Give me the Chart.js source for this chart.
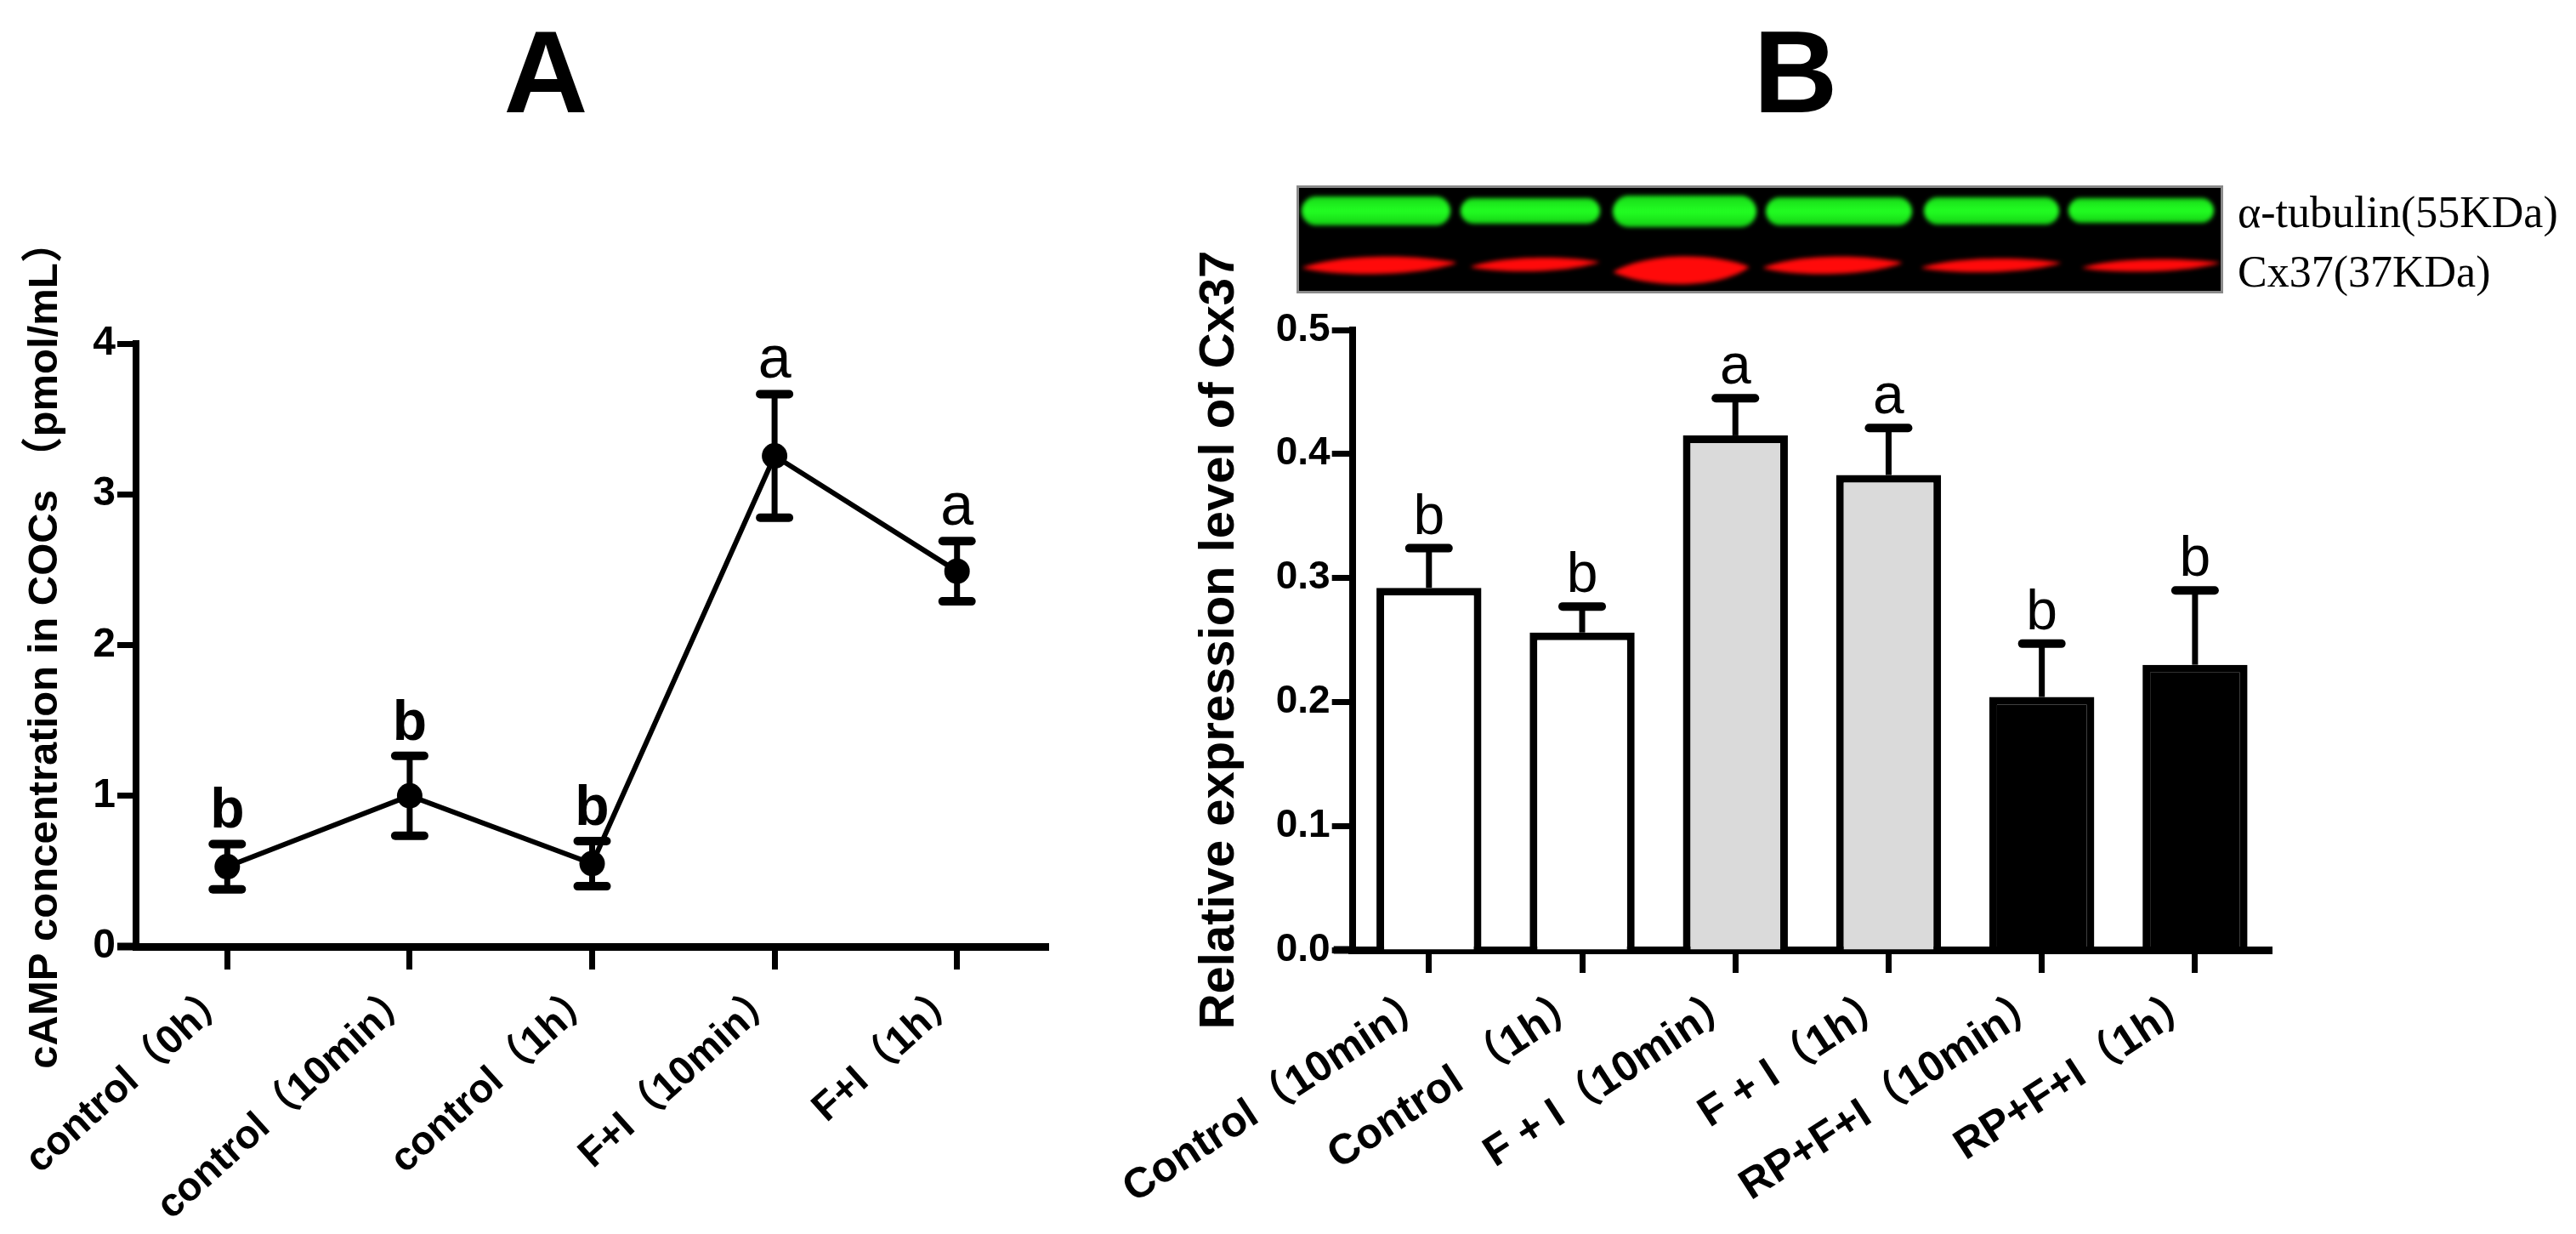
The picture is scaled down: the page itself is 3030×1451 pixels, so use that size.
<!DOCTYPE html>
<html>
<head>
<meta charset="utf-8">
<script src="https://cdn.jsdelivr.net/npm/chart.js@4.4.1/dist/chart.umd.min.js"></script>
<style>
html,body{margin:0;padding:0;background:#fff;}
#wrap{position:relative;width:3030px;height:1451px;overflow:hidden;background:#fff;}
canvas{position:absolute;top:0;}
#chartA{left:0;}
#chartB{left:1300px;}
#blot{left:1525px;top:218px;}
.ttl{position:absolute;top:16px;width:400px;text-align:center;font-family:"Liberation Sans",Arial,sans-serif;font-weight:bold;font-size:137px;line-height:1;color:#000;}
.blab{position:absolute;left:2632px;font-family:"Liberation Serif","Times New Roman",serif;font-size:52px;line-height:1;color:#000;white-space:nowrap;}
</style>
</head>
<body>
<div id="wrap">
  <canvas id="chartA" width="1300" height="1451"></canvas>
  <canvas id="chartB" width="1730" height="1451"></canvas>
  <canvas id="blot" width="1090" height="127"></canvas>
  <div class="ttl" style="left:442px;">A</div>
  <div class="ttl" style="left:1912px;">B</div>
  <div class="blab" style="top:224px;">α-tubulin(55KDa)</div>
  <div class="blab" style="top:294px;">Cx37(37KDa)</div>
</div>
<script>
// ---------- Panel A data ----------
const catsA = ['control（0h）', 'control（10min）', 'control（1h）', 'F+I（10min）', 'F+I（1h）'];
const meanA = [0.53, 1.00, 0.55, 3.255, 2.49];
const errA  = [0.15, 0.265, 0.15, 0.41, 0.20];
const sigA  = ['b', 'b', 'b', 'a', 'a'];
const yTitleA = 'cAMP concentration in COCs （pmol/mL）';

// ---------- Panel B data ----------
const catsB  = ['Control（10min）', 'Control （1h）', 'F + I（10min）', 'F + I（1h）', 'RP+F+I（10min）', 'RP+F+I（1h）'];
const groupB = ['Control', 'Control', 'F+I', 'F+I', 'RP+F+I', 'RP+F+I'];
const meanB  = [0.292, 0.256, 0.415, 0.383, 0.204, 0.230];
const errB   = [0.032, 0.021, 0.030, 0.038, 0.043, 0.060];
const sigB   = ['b', 'b', 'a', 'a', 'b', 'b'];
const yTitleB = 'Relative expression level of Cx37';

const SANS = '"Liberation Sans", Arial, "Noto Sans CJK SC", sans-serif';
const groupFill = {'Control': '#ffffff', 'F+I': '#dadada', 'RP+F+I': '#000000'};

function makeErrorBars(values, errors, letters, cfg) {
  return {
    id: 'errorBars',
    afterDatasetsDraw(chart) {
      const ctx = chart.ctx;
      const meta = chart.getDatasetMeta(0);
      const ys = chart.scales.y;
      ctx.save();
      ctx.strokeStyle = '#000';
      ctx.fillStyle = '#000';
      meta.data.forEach((el, i) => {
        const x = el.x;
        const v = values[i], e = errors[i];
        const yTop = ys.getPixelForValue(v + e);
        const yBot = ys.getPixelForValue(cfg.both ? v - e : v);
        ctx.lineWidth = cfg.stem;
        ctx.lineCap = 'butt';
        ctx.beginPath(); ctx.moveTo(x, yBot); ctx.lineTo(x, yTop); ctx.stroke();
        ctx.lineWidth = cfg.capW;
        ctx.lineCap = 'round';
        ctx.beginPath(); ctx.moveTo(x - cfg.cap / 2, yTop); ctx.lineTo(x + cfg.cap / 2, yTop); ctx.stroke();
        if (cfg.both) {
          ctx.beginPath(); ctx.moveTo(x - cfg.cap / 2, yBot); ctx.lineTo(x + cfg.cap / 2, yBot); ctx.stroke();
        }
        ctx.font = cfg.letterFont(letters[i]);
        ctx.textAlign = 'center';
        ctx.textBaseline = 'alphabetic';
        ctx.fillText(letters[i], x, yTop - cfg.capW / 2 - cfg.gap);
      });
      ctx.restore();
    }
  };
}

const axisStub = {
  id: 'axisStub',
  afterDraw(chart) {
    const ctx = chart.ctx, a = chart.chartArea;
    ctx.save();
    ctx.strokeStyle = '#000'; ctx.lineWidth = 9; ctx.lineCap = 'butt';
    ctx.beginPath(); ctx.moveTo(a.left - 22, a.bottom); ctx.lineTo(a.left, a.bottom); ctx.stroke();
    ctx.restore();
  }
};

// ---------- Chart A ----------
new Chart(document.getElementById('chartA'), {
  type: 'line',
  data: {
    labels: catsA,
    datasets: [{
      data: meanA,
      borderColor: '#000', borderWidth: 6,
      pointRadius: 15, pointBackgroundColor: '#000', pointBorderWidth: 0,
      tension: 0, fill: false
    }]
  },
  options: {
    responsive: false, animation: false, devicePixelRatio: 1,
    layout: {padding: {top: 404, right: 67, bottom: 0, left: 0}},
    plugins: {legend: {display: false}, tooltip: {enabled: false}},
    scales: {
      x: {
        type: 'category', offset: true,
        grid: {display: true, drawOnChartArea: false, drawTicks: true, tickLength: 27, tickWidth: 7, tickColor: '#000', color: '#000', offset: false},
        border: {display: true, width: 9, color: '#000'},
        ticks: {autoSkip: false, minRotation: 42, maxRotation: 42, padding: 4, color: '#000', font: {family: SANS, size: 47, weight: 'bold'}},
        afterFit(s) { s.height = 1451 - 1113; }
      },
      y: {
        min: 0, max: 4,
        grid: {display: true, drawOnChartArea: false, drawTicks: true, tickLength: 22, tickWidth: 7, tickColor: '#000', color: '#000'},
        border: {display: true, width: 8, color: '#000'},
        ticks: {stepSize: 1, padding: 2, color: '#000', font: {family: SANS, size: 48, weight: 'bold'}},
        title: {display: true, text: yTitleA, color: '#000', padding: {top: 24, bottom: 0}, font: {family: SANS, size: 49, weight: 'bold'}},
        afterFit(s) { s.width = 160; }
      }
    }
  },
  plugins: [makeErrorBars(meanA, errA, sigA, {
    both: true, stem: 7, capW: 10, cap: 34, gap: 14,
    letterFont: l => (l === 'b' ? 'bold 66px ' : '70px ') + SANS
  }), axisStub]
});

// ---------- Chart B ----------
new Chart(document.getElementById('chartB'), {
  type: 'bar',
  data: {
    labels: catsB,
    datasets: [{
      data: meanB,
      backgroundColor: groupB.map(g => groupFill[g]),
      borderColor: '#000', borderWidth: 9, borderSkipped: 'start',
      barPercentage: 0.685, categoryPercentage: 1
    }]
  },
  options: {
    responsive: false, animation: false, devicePixelRatio: 1,
    layout: {padding: {top: 388, right: 358, bottom: 0, left: 0}},
    plugins: {legend: {display: false}, tooltip: {enabled: false}},
    scales: {
      x: {
        type: 'category', offset: true,
        grid: {display: true, drawOnChartArea: false, drawTicks: true, tickLength: 27, tickWidth: 7, tickColor: '#000', color: '#000', offset: false},
        border: {display: true, width: 9, color: '#000'},
        ticks: {autoSkip: false, minRotation: 33, maxRotation: 33, padding: 4, color: '#000', font: {family: SANS, size: 50, weight: 'bold'}},
        afterFit(s) { s.height = 1451 - 1117; }
      },
      y: {
        min: 0, max: 0.5,
        grid: {display: true, drawOnChartArea: false, drawTicks: true, tickLength: 24, tickWidth: 7, tickColor: '#000', color: '#000'},
        border: {display: true, width: 8, color: '#000'},
        ticks: {stepSize: 0.1, padding: 2, color: '#000', font: {family: SANS, size: 46, weight: 'bold'}, callback: v => Number(v).toFixed(1)},
        title: {display: true, text: yTitleB, color: '#000', padding: {top: 82, bottom: 0}, font: {family: SANS, size: 58, weight: 'bold'}},
        afterFit(s) { s.width = 272; }
      }
    }
  },
  plugins: [makeErrorBars(meanB, errB, sigB, {
    both: false, stem: 7, capW: 10, cap: 46, gap: 12,
    letterFont: l => '66px ' + SANS
  }), axisStub]
});

// ---------- Western blot picture (decorative image above panel B) ----------
(function drawBlot() {
  const c = document.getElementById('blot');
  const ctx = c.getContext('2d');
  const W = c.width, H = c.height;
  ctx.fillStyle = '#000';
  ctx.fillRect(0, 0, W, H);
  const green = [[6, 181, 13, 47], [193, 357, 15, 45], [372, 541, 12, 49], [552, 724, 14, 47], [738, 897, 14, 46], [908, 1079, 15, 44]];
  const red = [[6, 189, 82, 106], [204, 357, 84, 102], [372, 533, 80, 118], [548, 713, 82, 106], [734, 900, 85, 103], [923, 1087, 86, 102]];
  ctx.filter = 'blur(2.5px)';
  green.forEach(([x0, x1, y0, y1]) => {
    const g = ctx.createLinearGradient(0, y0, 0, y1);
    g.addColorStop(0, '#18d818'); g.addColorStop(0.5, '#22ff22'); g.addColorStop(1, '#14d014');
    ctx.fillStyle = g;
    ctx.beginPath(); ctx.roundRect(x0, y0, x1 - x0, y1 - y0, (y1 - y0) / 2); ctx.fill();
  });
  red.forEach(([x0, x1, y0, y1], i) => {
    ctx.fillStyle = '#ff0a0a';
    ctx.beginPath();
    const mid = (y0 + y1) / 2;
    const w = x1 - x0;
    ctx.moveTo(x0, mid + 3);
    ctx.bezierCurveTo(x0 + w * 0.25, y0 - 2, x0 + w * 0.75, y0 - 1, x1, mid - 3);
    ctx.bezierCurveTo(x0 + w * 0.75, y1 + (i === 2 ? 6 : 1), x0 + w * 0.25, y1 + 2, x0, mid + 3);
    ctx.closePath();
    ctx.fill();
  });
  ctx.filter = 'none';
  ctx.strokeStyle = '#8a8a8a'; ctx.lineWidth = 3;
  ctx.strokeRect(1.5, 1.5, W - 3, H - 3);
})();
</script>
</body>
</html>
